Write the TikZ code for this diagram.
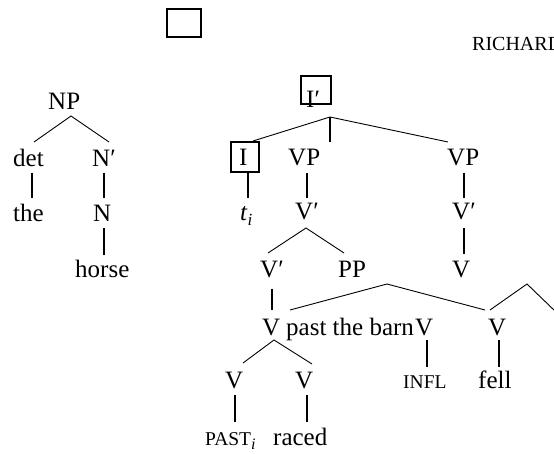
\documentclass[tikz,border=0pt]{standalone}
\usepackage{fontspec}
\setmainfont{Liberation Serif}
\begin{document}
\begin{tikzpicture}[x=1pt,y=-1pt,
  lbl/.style={anchor=base west,inner sep=0pt,font=\fontsize{25}{28}\selectfont},
  sc/.style={anchor=base west,inner sep=0pt,font=\fontsize{19.5}{22}\selectfont},
  boxed/.style={draw,line width=2pt,inner sep=0pt},
  branch/.style={line width=0.9pt},
  stem/.style={line width=1.6pt}]
\useasboundingbox (0,0) rectangle (554,454);
\clip (0,0) rectangle (554,454);
% top box and header
\node[boxed,minimum width=34pt,minimum height=28pt] (topbox) at (184,23) {};
\node[anchor=base west,inner sep=0pt,font=\fontsize{20}{22}\selectfont] (hdr) at (472,51) {RICHARD};
% left tree
\node[lbl] (np) at (48,110) {NP};
\node[lbl] (det) at (13,167) {det};
\node[lbl] (nbar) at (92,167) {N′};
\node[lbl] (the) at (13,222) {the};
\node[lbl] (n) at (93,222) {N};
\node[lbl] (horse) at (75,278) {horse};
\coordinate (npa) at (71,116);
\coordinate (npl) at (34,142);
\coordinate (npr) at (109,142);
\draw[branch] (npl) -- (npa) -- (npr);
\coordinate (det1) at (32,173); \coordinate (det2) at (32,198);
\draw[stem] (det1) -- (det2);
\coordinate (nb1) at (104,173); \coordinate (nb2) at (104,198);
\draw[stem] (nb1) -- (nb2);
\coordinate (n1) at (104,228); \coordinate (n2) at (104,255);
\draw[stem] (n1) -- (n2);
% right tree
\node[lbl] (ibar) at (306,108) {I′};
\node[boxed,minimum width=30pt,minimum height=28pt] (ibarbox) at (316,90) {};
\node[lbl] (itxt) at (239,166) {I};
\node[boxed,minimum width=28pt,minimum height=30pt] (ibox) at (245,157) {};
\node[lbl] (vp1) at (288,166) {VP};
\node[lbl] (vp2) at (447,166) {VP};
\node[lbl] (ti) at (240,221) {\textit{t}\raisebox{-5pt}{\fontsize{17}{18}\selectfont\textit{i}}};
\node[lbl] (vbar1) at (295,220) {V′};
\node[lbl] (vbar2) at (452,220) {V′};
\node[lbl] (vbar3) at (260,277) {V′};
\node[lbl] (pp) at (338,277) {PP};
\node[lbl] (v4) at (452,277) {V};
\node[lbl] (v5a) at (262,335) {V};
\node[lbl] (ptb) at (286,335) {past the barn};
\node[lbl] (v5b) at (415,335) {V};
\node[lbl] (v5c) at (488,335) {V};
\node[lbl] (v6a) at (225,388) {V};
\node[lbl] (v6b) at (295,388) {V};
\node[sc] (infl) at (403,388) {INFL};
\node[lbl] (fell) at (478,388) {fell};
\node[sc] (past) at (205,445) {PAST\raisebox{-4pt}{\fontsize{16}{18}\selectfont\textit{i}}};
\node[lbl] (raced) at (273,445) {raced};
% I' branches
\coordinate (ia) at (330,117);
\coordinate (il) at (253,141);
\coordinate (im) at (330,142);
\coordinate (ir) at (448,142);
\draw[branch] (il) -- (ia) -- (ir);
\draw[stem] (ia) -- (im);
\coordinate (i1) at (248,173); \coordinate (i2) at (248,198);
\draw[stem] (i1) -- (i2);
\coordinate (vp11) at (307,173); \coordinate (vp12) at (307,198);
\draw[stem] (vp11) -- (vp12);
\coordinate (vp21) at (464,173); \coordinate (vp22) at (464,198);
\draw[stem] (vp21) -- (vp22);
% V' row 3
\coordinate (vba) at (306,228);
\coordinate (vbl) at (268,253);
\coordinate (vbr) at (344,253);
\draw[branch] (vbl) -- (vba) -- (vbr);
\coordinate (vb21) at (464,228); \coordinate (vb22) at (464,254);
\draw[stem] (vb21) -- (vb22);
% row 4
\coordinate (vb31) at (272,289); \coordinate (vb32) at (272,310);
\draw[stem] (vb31) -- (vb32);
\coordinate (ppl) at (290,310);
\coordinate (ppa) at (387,284);
\coordinate (ppr) at (485,310);
\draw[branch] (ppl) -- (ppa) -- (ppr);
\coordinate (xl) at (490,310);
\coordinate (xa) at (527,284);
\coordinate (xr) at (556,312);
\draw[branch] (xl) -- (xa) -- (xr);
% row 5
\coordinate (v5aa) at (274,340);
\coordinate (v5al) at (243,363);
\coordinate (v5ar) at (312,364);
\draw[branch] (v5al) -- (v5aa) -- (v5ar);
\coordinate (v5b1) at (427,340); \coordinate (v5b2) at (427,367);
\draw[stem] (v5b1) -- (v5b2);
\coordinate (v5c1) at (499,340); \coordinate (v5c2) at (499,367);
\draw[stem] (v5c1) -- (v5c2);
% row 6
\coordinate (v6a1) at (235,395); \coordinate (v6a2) at (235,422);
\draw[stem] (v6a1) -- (v6a2);
\coordinate (v6b1) at (307,395); \coordinate (v6b2) at (307,422);
\draw[stem] (v6b1) -- (v6b2);
\end{tikzpicture}
\end{document}
